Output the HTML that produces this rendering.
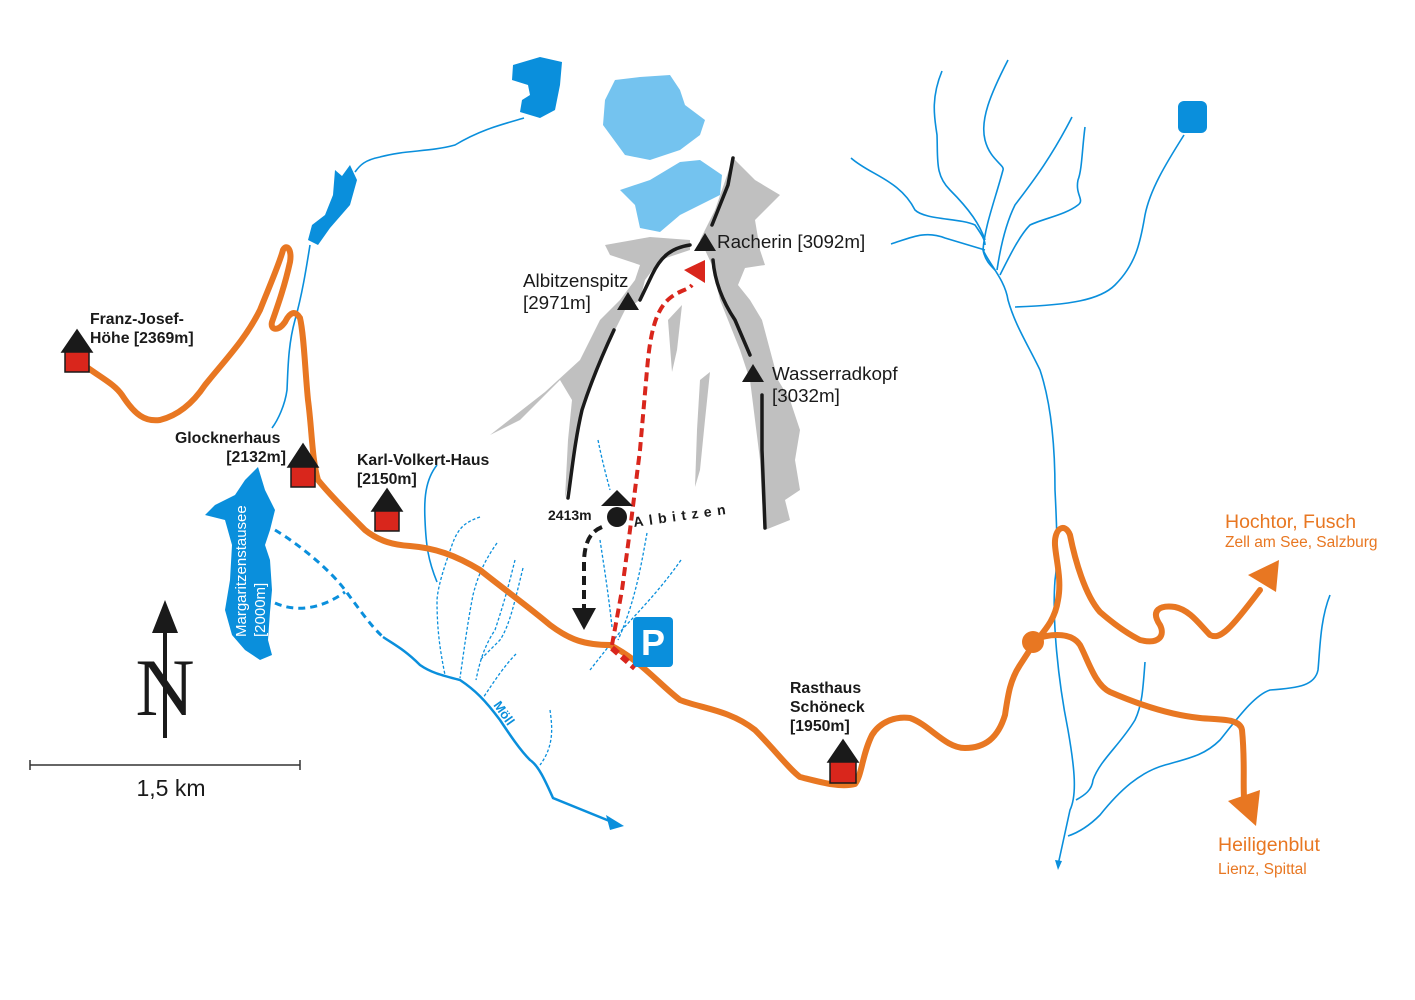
<!DOCTYPE html>
<html><head><meta charset="utf-8"><style>
html,body{margin:0;padding:0;background:#fff;}
svg{display:block;}
text{font-family:"Liberation Sans",sans-serif;}
.b{font-weight:bold;font-size:15.8px;fill:#1a1a1a;}
.r{font-size:18.8px;fill:#1a1a1a;}
</style></head><body>
<svg width="1415" height="1000" viewBox="0 0 1415 1000" xmlns="http://www.w3.org/2000/svg">
<rect width="1415" height="1000" fill="#fff"/>
<path d="M605,100 L615,80 L640,77 L670,75 L680,90 L685,105 L705,120 L700,135 L680,150 L650,160 L625,155 L603,125 Z" fill="#74c3ef"/>
<path d="M620,190 L650,180 L680,162 L700,160 L722,175 L720,195 L700,205 L680,215 L660,232 L640,228 L635,205 Z" fill="#74c3ef"/>
<path d="M605,245 L650,237 L690,240 L690,250 L660,260 L645,280 L640,300 L625,310 L615,330 L600,360 L585,400 L575,440 L572,470 L565,498 L568,440 L572,400 L560,380 L540,400 L520,420 L490,435 L545,392 L580,360 L600,320 L620,300 L635,280 L640,265 L610,255 Z" fill="#c0c0c0"/>
<path d="M700,240 L715,210 L733,158 L755,180 L780,195 L770,205 L755,220 L760,250 L765,265 L745,268 L738,285 L750,300 L762,320 L770,350 L778,380 L790,400 L800,430 L795,460 L800,490 L785,500 L790,520 L765,530 L762,500 L760,460 L755,420 L750,380 L740,350 L720,300 L712,265 L705,250 Z" fill="#c0c0c0"/>
<path d="M668,320 L682,305 L677,350 L672,372 Z" fill="#c0c0c0"/>
<path d="M700,380 L710,372 L705,420 L700,470 L695,487 L697,430 Z" fill="#c0c0c0"/>
<g fill="none" stroke="#1a1a1a" stroke-width="3.5" stroke-linecap="round">
<path d="M733,158 L728,185 L718,210 L712,225"/>
<path d="M690,245 C670,248 660,258 652,275 L640,300"/>
<path d="M614,330 C600,360 590,385 582,410 C575,440 572,470 568,498"/>
<path d="M713,260 C715,285 725,305 735,320 L750,355"/>
<path d="M762,395 L762,450 L765,528"/>
</g>
<polygon points="705,233 694,251 716,251" fill="#1a1a1a"/>
<polygon points="628,292 617,310 639,310" fill="#1a1a1a"/>
<polygon points="753,364 742,382 764,382" fill="#1a1a1a"/>
<path d="M513,65 L540,57 L562,62 L560,85 L555,110 L540,118 L520,112 L522,100 L530,95 L528,85 L512,80 Z" fill="#0a8fdc"/>
<path d="M335,170 L342,176 L350,165 L357,180 L350,205 L330,228 L318,245 L308,240 L312,225 L325,215 L333,195 Z" fill="#0a8fdc"/>
<path d="M258,467 L265,490 L275,510 L270,530 L265,545 L270,560 L272,590 L270,612 L268,640 L272,655 L260,660 L245,650 L232,635 L225,610 L230,580 L232,545 L225,520 L205,515 L215,505 L235,495 L245,480 Z" fill="#0a8fdc"/>
<rect x="1178" y="101" width="29" height="32" rx="6" fill="#0a8fdc"/>
<g fill="none" stroke="#0a8fdc" stroke-width="1.6">
<path d="M524,118 C500,125 480,130 455,145 C430,152 405,150 380,157 C365,160 360,165 355,172"/>
<path d="M310,245 C306,270 302,295 295,320 C288,345 288,370 287,390 C285,405 278,420 272,428"/>
<path d="M437,465 C425,480 424,500 425,520 C426,545 428,560 437,582"/>
<path d="M942,71 C930,100 935,120 937,135 C938,160 935,175 950,190 C970,210 980,225 985,240"/>
<path d="M1008,60 C990,95 980,120 985,140 C990,160 1005,165 1003,170 C995,200 985,225 983,250 C985,260 990,265 995,270"/>
<path d="M851,158 C870,175 900,180 915,210 C925,220 960,218 975,225 C982,235 985,240 985,245"/>
<path d="M891,244 C910,238 925,230 945,238 L985,250"/>
<path d="M1072,117 C1050,160 1030,185 1015,205 C1005,225 1000,250 997,270"/>
<path d="M1085,127 C1082,150 1082,170 1078,180 C1075,195 1085,200 1078,205 C1065,215 1045,218 1030,225 C1020,235 1010,255 1000,275"/>
<path d="M1184,135 C1165,165 1150,190 1145,215 C1140,245 1135,265 1115,285 C1100,300 1070,305 1015,307"/>
<path d="M983,250 C990,265 1005,280 1008,300 C1015,325 1028,345 1040,370 C1050,400 1055,440 1055,490 C1057,530 1058,560 1055,580 C1052,620 1058,680 1068,730 C1075,770 1077,795 1070,810 L1058,865"/>
<path d="M1145,662 C1143,690 1142,705 1135,720 C1120,745 1100,760 1093,780 C1092,790 1085,795 1076,800"/>
<path d="M1330,595 C1320,620 1320,650 1318,670 C1315,685 1300,688 1270,690 C1255,695 1240,715 1220,740 C1205,755 1190,758 1165,765 C1140,772 1120,790 1100,815 C1090,825 1080,832 1068,836"/>
<path d="M383,637 C395,645 405,650 420,665 C430,672 440,675 460,680 C475,690 485,700 500,720 C510,735 520,750 530,760 C538,765 545,780 553,798 L612,822" stroke-width="2.5"/>
</g>
<polygon points="1058,870 1055,860 1062,861" fill="#0a8fdc"/>
<polygon points="624,826 606,815 610,830" fill="#0a8fdc"/>
<g fill="none" stroke="#0a8fdc" stroke-width="3" stroke-dasharray="7,5">
<path d="M275,530 C300,545 330,570 345,590 C360,610 370,625 383,637"/>
<path d="M275,603 C295,612 320,610 345,592"/>
</g>
<g fill="none" stroke="#0a8fdc" stroke-width="1.3" stroke-dasharray="3,2">
<path d="M480,517 C465,522 458,528 452,545 C445,565 438,585 437,600 C437,630 440,650 445,675"/>
<path d="M497,543 C485,560 478,575 473,595 C468,620 464,650 460,678"/>
<path d="M515,560 C510,580 505,600 495,630 C485,645 480,660 476,680"/>
<path d="M523,568 C515,600 510,625 500,640 L480,660"/>
<path d="M516,654 C505,665 495,680 483,698"/>
<path d="M550,710 C552,725 555,745 540,765"/>
<path d="M598,440 C602,460 606,475 610,490"/>
<path d="M600,540 C603,560 608,590 612,627"/>
<path d="M647,533 C642,560 636,600 618,640"/>
<path d="M681,560 C660,590 640,610 620,632 L590,670"/>
</g>
<g fill="none" stroke="#e87722" stroke-width="6" stroke-linecap="round" stroke-linejoin="round">
<path d="M88,368 C105,380 115,385 122,395 C135,415 145,422 160,420 C180,415 195,400 205,385 C225,360 245,340 260,310 C270,285 280,262 283,250 C287,243 292,250 290,262 C285,285 278,305 272,322 C270,330 278,332 285,322 C290,312 295,310 300,318 C304,335 305,370 308,400 C312,430 312,460 318,480 C330,495 350,515 365,530 C380,542 395,545 410,546 C435,548 455,555 480,570 C505,590 530,608 550,625 C570,640 585,645 610,645 C640,660 660,685 680,700 C700,708 730,710 755,730 C775,750 790,770 800,777 C820,782 840,788 855,784 C862,775 862,755 872,735 C880,722 895,716 910,718 C930,725 945,748 965,748 C985,748 998,738 1005,715 C1008,695 1010,680 1020,665 L1033,645 C1045,630 1055,620 1058,600 C1062,580 1056,560 1055,545 C1054,528 1065,522 1070,535 C1075,560 1085,595 1100,612 C1115,625 1130,635 1140,640 C1160,645 1165,635 1160,625 C1150,610 1160,605 1175,607 C1190,610 1200,625 1210,635 C1220,640 1230,630 1260,590"/>
<path d="M1033,640 C1045,635 1070,630 1080,645 C1088,660 1095,685 1110,692 C1140,705 1170,715 1200,718 C1220,720 1240,718 1242,730 C1245,760 1243,780 1244,798"/>
</g>
<circle cx="1033" cy="642" r="11" fill="#e87722"/>
<polygon points="1248,575 1279,560 1276,592" fill="#e87722"/>
<polygon points="1228,801 1260,790 1256,826" fill="#e87722"/>
<path d="M612,645 L622,590 L630,530 L640,450 L647,370 C650,335 655,310 670,298 C680,290 688,290 692,285" fill="none" stroke="#d9261c" stroke-width="4" stroke-dasharray="9,5"/>
<polygon points="684,270 705,260 705,283" fill="#d9261c"/>
<path d="M612,648 L635,668" stroke="#d9261c" stroke-width="6" stroke-dasharray="8,5"/>
<path d="M602,527 C590,532 585,542 584,560 L584,608" fill="none" stroke="#1a1a1a" stroke-width="4" stroke-dasharray="9,5"/>
<polygon points="572,608 596,608 584,630" fill="#1a1a1a"/>
<polygon points="617,490 601,506 633,506" fill="#1a1a1a"/>
<circle cx="617" cy="517" r="10" fill="#1a1a1a"/>
<text x="548" y="520" class="b" style="font-size:14px">2413m</text>
<text x="634" y="527" font-size="14" font-weight="bold" letter-spacing="5.5" fill="#1a1a1a" transform="rotate(-8 634 527)">Albitzen</text>
<rect x="633" y="617" width="40" height="50" rx="4" fill="#0a8fdc"/>
<text x="653" y="655" text-anchor="middle" font-size="36" font-weight="bold" fill="#fff">P</text>
<g stroke="#1a1a1a" stroke-width="1.5">
<polygon points="77,330 62,352 92,352" fill="#1a1a1a"/><rect x="65" y="352" width="24" height="20" fill="#d9261c"/>
<polygon points="303,444 288,467 318,467" fill="#1a1a1a"/><rect x="291" y="467" width="24" height="20" fill="#d9261c"/>
<polygon points="387,489 372,511 402,511" fill="#1a1a1a"/><rect x="375" y="511" width="24" height="20" fill="#d9261c"/>
<polygon points="843,740 828,762 858,762" fill="#1a1a1a"/><rect x="830" y="762" width="26" height="21" fill="#d9261c"/>
</g>
<text x="90" y="324" class="b">Franz-Josef-</text>
<text x="90" y="343" class="b">Höhe [2369m]</text>
<text x="175" y="443" class="b">Glocknerhaus</text>
<text x="286" y="462" class="b" text-anchor="end">[2132m]</text>
<text x="357" y="465" class="b">Karl-Volkert-Haus</text>
<text x="357" y="484" class="b">[2150m]</text>
<text x="790" y="693" class="b">Rasthaus</text>
<text x="790" y="712" class="b">Schöneck</text>
<text x="790" y="731" class="b">[1950m]</text>
<text x="523" y="287" class="r">Albitzenspitz</text>
<text x="523" y="309" class="r">[2971m]</text>
<text x="717" y="248" class="r">Racherin [3092m]</text>
<text x="772" y="380" class="r">Wasserradkopf</text>
<text x="772" y="402" class="r">[3032m]</text>
<text x="1225" y="528" style="font-size:19.5px;fill:#e87722">Hochtor, Fusch</text>
<text x="1225" y="547" style="font-size:15.5px;fill:#e87722">Zell am See, Salzburg</text>
<text x="1218" y="851" style="font-size:19.5px;fill:#e87722">Heiligenblut</text>
<text x="1218" y="874" style="font-size:15.5px;fill:#e87722">Lienz, Spittal</text>
<text transform="translate(246,637) rotate(-90)" font-size="15" fill="#fff">Margaritzenstausee</text>
<text transform="translate(265,637) rotate(-90)" font-size="15" fill="#fff">[2000m]</text>
<text transform="translate(493,705) rotate(55)" font-size="13" font-weight="bold" fill="#0a8fdc">Möll</text>
<text x="165" y="715" text-anchor="middle" style="font-family:'Liberation Serif',serif;font-size:82px;fill:#1a1a1a">N</text>
<line x1="165" y1="620" x2="165" y2="738" stroke="#1a1a1a" stroke-width="4"/>
<polygon points="165,600 152,633 178,633" fill="#1a1a1a"/>
<line x1="30" y1="765" x2="300" y2="765" stroke="#333" stroke-width="1.5"/>
<line x1="30" y1="760" x2="30" y2="770" stroke="#333" stroke-width="1.5"/>
<line x1="300" y1="760" x2="300" y2="770" stroke="#333" stroke-width="1.5"/>
<text x="171" y="796" text-anchor="middle" font-size="23" fill="#1a1a1a">1,5 km</text>
</svg>
</body></html>
